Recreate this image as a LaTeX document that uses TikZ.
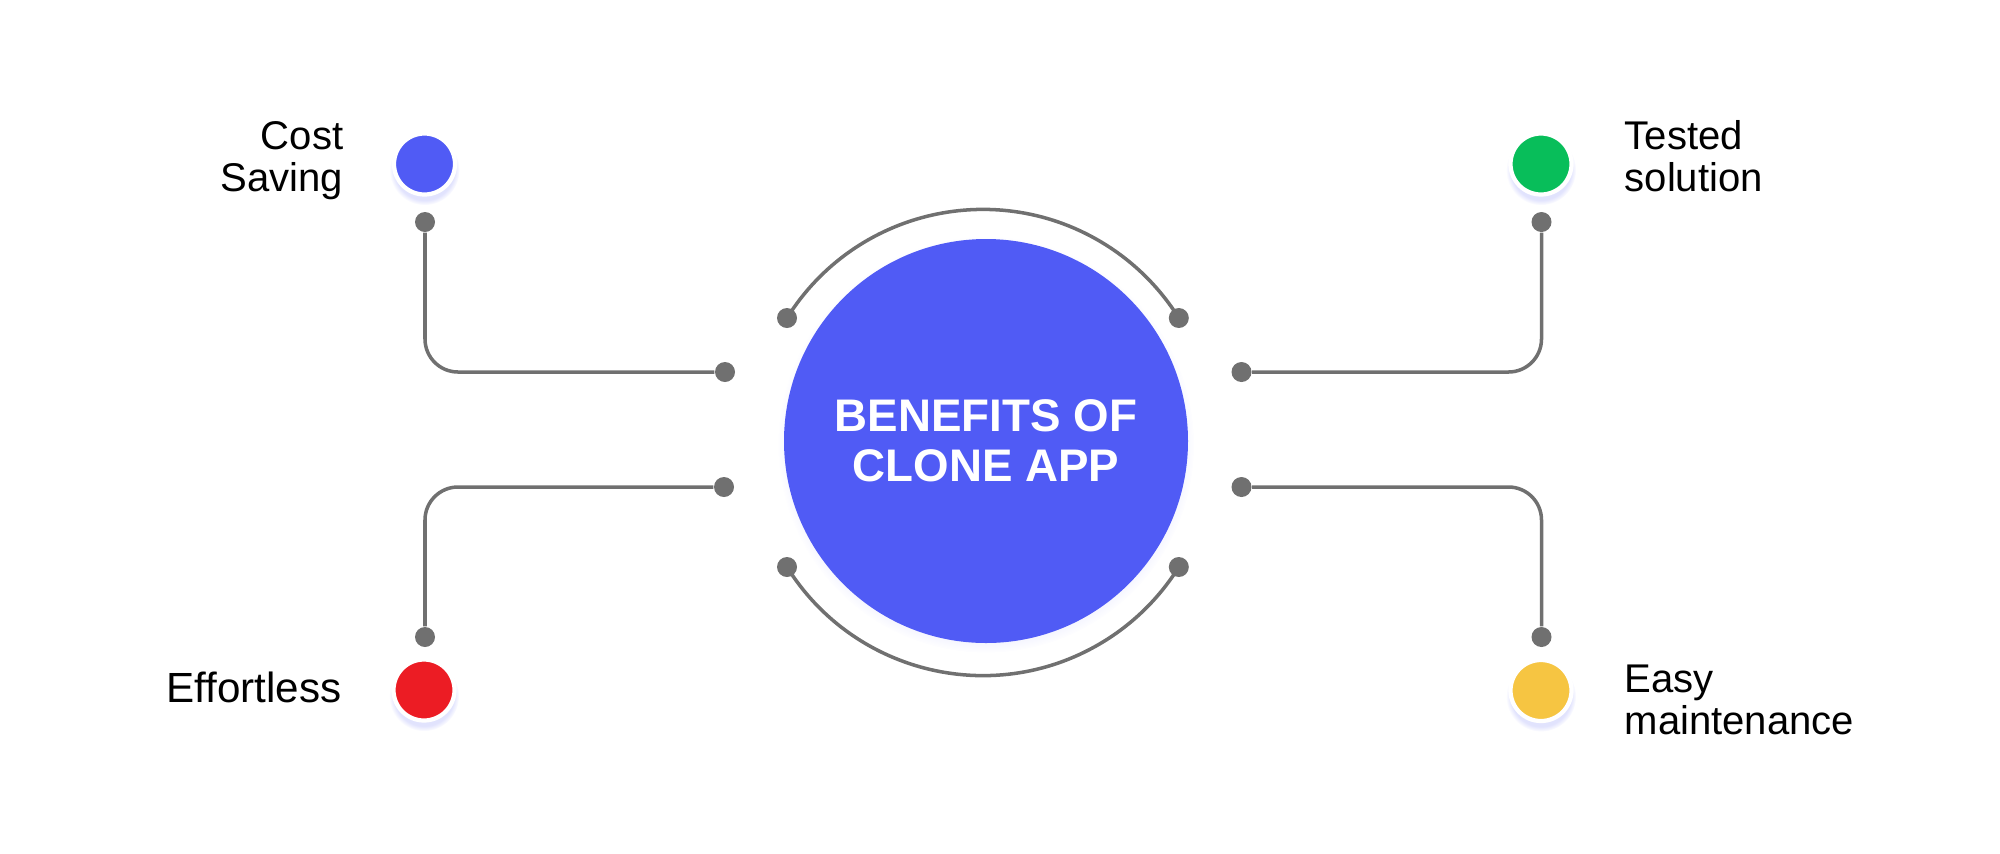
\documentclass[tikz,border=0pt]{standalone}
\usepackage{fontspec}
\setmainfont{Liberation Sans}
\usetikzlibrary{shadows}

\definecolor{hubblue}{RGB}{80,91,245}
\definecolor{leafgreen}{RGB}{8,190,90}
\definecolor{leafred}{RGB}{236,28,36}
\definecolor{leafyellow}{RGB}{246,197,66}
\definecolor{wire}{RGB}{112,112,112}
\definecolor{glow}{RGB}{170,175,250}

\begin{document}
\begin{tikzpicture}
  \tikzstyle{hub}=[circle, fill=hubblue, text=white, minimum size=4.04cm, inner sep=0pt,
    align=center, font=\fontsize{13}{14.2}\selectfont\bfseries,
    circular drop shadow={shadow xshift=0pt, shadow yshift=-1pt, shadow scale=1.03, fill=glow, opacity=0.35}]
  \tikzstyle{blob}=[circle, draw=white, line width=1.2pt, minimum size=0.61cm, inner sep=0pt,
    circular drop shadow={shadow xshift=0pt, shadow yshift=-1.5pt, shadow scale=1.15, fill=glow, opacity=0.35}]
  \tikzstyle{pin}=[circle, fill=wire, minimum size=0.2cm, inner sep=0pt]
  \tikzstyle{link}=[draw=wire, line width=1pt, rounded corners=0.33cm]
  \tikzstyle{tag}=[inner sep=0pt, font=\fontsize{11.4}{12}\selectfont]

  \useasboundingbox (0,0) rectangle (20,8.53);

  \node[hub] (H) at (9.86,4.12) {BENEFITS OF\\CLONE APP};

  % the four leaves
  \node[blob, fill=hubblue]    (CS) at (4.245,6.89) {};
  \node[blob, fill=leafgreen]  (TS) at (15.41,6.89) {};
  \node[blob, fill=leafred]    (EF) at (4.24,1.63)  {};
  \node[blob, fill=leafyellow] (EM) at (15.41,1.625) {};

  \node[tag, anchor=east, align=right] (CSt) at (3.44,6.925) {Cost\\Saving};
  \node[tag, anchor=west, align=left]  (TSt) at (16.24,6.97) {Tested\\solution};
  \node[tag, anchor=east, font=\fontsize{12}{13}\selectfont] (EFt) at (3.42,1.66) {Effortless};
  \node[tag, anchor=west, align=left]  (EMt) at (16.24,1.53) {Easy\\maintenance};

  % pins
  \node[pin] (CS1) at (4.25,6.31)   {};
  \node[pin] (CS2) at (7.25,4.81)   {};
  \node[pin] (TS1) at (15.415,6.31) {};
  \node[pin] (TS2) at (12.415,4.81) {};
  \node[pin] (EF1) at (4.25,2.16)   {};
  \node[pin] (EF2) at (7.24,3.66)   {};
  \node[pin] (EM1) at (15.415,2.16) {};
  \node[pin] (EM2) at (12.415,3.66) {};
  \node[pin] (UL) at (7.87,5.35)  {};
  \node[pin] (UR) at (11.788,5.35) {};
  \node[pin] (LL) at (7.87,2.86)  {};
  \node[pin] (LR) at (11.788,2.86) {};

  \path[link] (CS1) |- (CS2)
              (TS1) |- (TS2)
              (EF1) |- (EF2)
              (EM1) |- (EM2);

  \draw[wire, line width=1pt] (UL.center) arc[start angle=148, end angle=32, radius=2.31];
  \draw[wire, line width=1pt] (LL.center) arc[start angle=212, end angle=328, radius=2.31];
\end{tikzpicture}
\end{document}
